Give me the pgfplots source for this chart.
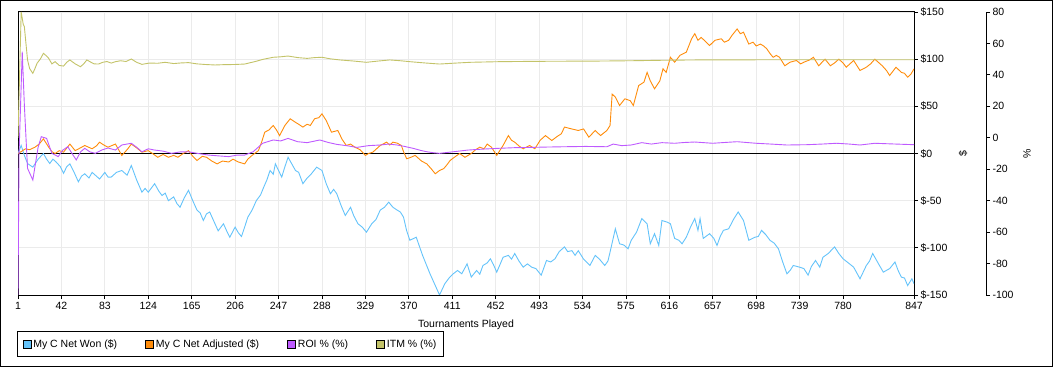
\documentclass[border=0pt]{standalone}
\usepackage{pgfplots}
\pgfplotsset{compat=1.18}
\usepackage{fontspec}
\setmainfont{Liberation Sans}
\definecolor{cwon}{RGB}{100,195,250}
\definecolor{cadj}{RGB}{255,140,10}
\definecolor{croi}{RGB}{190,90,255}
\definecolor{citm}{RGB}{195,195,105}
\definecolor{gridc}{RGB}{235,235,235}
\newcommand{\f}{\fontsize{10.5bp}{12bp}\selectfont}
\pgfplotsset{
  common/.style={
    scale only axis, width=896bp, height=283bp,
    at={(18bp,72bp)}, anchor=south west,
    xmin=1, xmax=847,
  },
  legend image code/.code={\draw[#1,draw=black,line width=0.8bp,fill] (0bp,-4bp) rectangle (8bp,4bp);},
}
\begin{document}
\begin{tikzpicture}
\useasboundingbox (0,0) rectangle (1053bp,367bp);
\draw[line width=1bp] (0.5bp,0.5bp) rectangle (1052.5bp,366.5bp);
% main $ axis
\begin{axis}[common,
  ymin=-150, ymax=150,
  axis line style={line width=1bp},
  tick style={black, line width=0.8bp},
  major tick length=4bp, tick align=outside,
  xtick={1,42,83,124,165,206,247,288,329,370,411,452,493,534,575,616,657,698,739,780,847},
  xticklabels={1,42,83,124,165,206,247,288,329,370,411,452,493,534,575,616,657,698,739,780,847},
  ytick={-150,-100,-50,0,50,100,150},
  yticklabels={\$-150,\$-100,\$-50,\$0,\$50,\$100,\$150},
  xtick pos=left, ytick pos=right, yticklabel pos=right,
  grid=major, major grid style={gridc, line width=0.8bp},
  tick label style={font=\f},
  yticklabel style={xshift=-1bp},
  xlabel={Tournaments Played},
  xlabel style={font=\f, at={(axis description cs:0.5,0)}, anchor=center, yshift=-30bp},
  ylabel={\$},
  every axis y label/.style={font=\f, at={(axis description cs:1,0.5)}, anchor=center, xshift=49bp, rotate=90},
  legend columns=4,
  legend style={font=\f, at={(axis description cs:0,0)}, anchor=north west, xshift=-1bp, yshift=-36bp,
    draw=black, line width=1bp, inner xsep=5bp, inner ysep=6bp, cells={anchor=west},
    /tikz/every even column/.append style={column sep=26bp}},
]
\addplot[black, line width=1bp, forget plot] coordinates {(1,0) (847,0)};
\addplot[cwon, line width=0.9bp] coordinates {
(1,0)(4,8.5)(7,-2)(10,-10.6)(15,-14.5)(20,-6)(25,0)(28,-6)(31,-10.6)(34,-6)(37,-9)(41,-14)(44,-21)(47,-14)(50,-11)(54,-20)(58,-30)(61,-24)(64,-21.5)(68,-26)(71,-20)(75,-24)(78,-27)(83,-20)(86,-25)(89,-25)(94,-20)(99,-18)(104,-23)(108,-12.7)(113,-28)(118,-41)(121,-37)(124,-41)(130,-32)(134,-40)(137,-44.5)(140,-42)(143,-50)(148,-46)(151,-53)(154,-57)(158,-47)(162,-39)(166,-50)(170,-60)(173,-63)(176,-71)(179,-64)(182,-62)(186,-72)(190,-82)(195,-74.5)(198,-82)(201,-88.7)(206,-78)(209,-84)(212,-88)(215,-78)(218,-67.5)(222,-60)(226,-50)(230,-44)(233,-35.7)(236,-28)(239,-18)(242,-22)(244,-11)(247,-18)(250,-25)(253,-14)(256,-4)(260,-12)(263,-18)(266,-20)(270,-32)(274,-26)(278,-21.5)(283,-14.5)(288,-18)(292,-32)(296,-42.7)(299,-38)(302,-42.7)(306,-55)(310,-65.7)(315,-57)(318,-66)(322,-74.5)(326,-78)(330,-83.4)(335,-74.5)(339,-70)(343,-60)(347,-57)(351,-51.6)(355,-57)(359,-60)(362,-62)(365,-67.5)(368,-82)(371,-92)(377,-88.7)(383,-108)(390,-127.5)(395,-140)(399,-150)(404,-138)(408,-132)(412,-127.5)(416,-124)(420,-127.5)(425,-117)(429,-131)(434,-124)(437,-128)(440,-118.7)(444,-116)(447,-111.6)(450,-118)(453,-125.8)(456,-118)(459,-110)(464,-108)(467,-112)(470,-106)(474,-114)(478,-120.5)(482,-117)(486,-120.5)(490,-122)(495,-129)(500,-113.4)(504,-115)(508,-111.6)(512,-104)(517,-99)(520,-104)(524,-103)(527,-108)(530,-103)(535,-112)(541,-118.7)(546,-108)(550,-112)(555,-118.7)(558,-114)(560,-104.6)(565,-79.8)(569,-95.7)(573,-97)(577,-101)(580,-92)(585,-83.4)(590,-69)(595,-74.5)(598,-95.7)(602,-85)(606,-97.5)(609,-71)(614,-72.8)(617,-74.5)(621,-90)(625,-92)(628,-95.7)(632,-88.7)(636,-78)(640,-69)(643,-81.5)(645,-69)(648,-90)(654,-85)(658,-90)(661,-97.5)(664,-88)(667,-81.5)(672,-79.8)(677,-69)(681,-62)(686,-71)(691,-92)(697,-88.7)(700,-88)(703,-81.5)(707,-86)(711,-92)(715,-95)(719,-101)(723,-115)(727,-127.5)(730,-124)(733,-118.7)(739,-120.5)(743,-122)(747,-129)(750,-120)(754,-113.4)(758,-120.5)(761,-110)(766,-106)(772,-99)(776,-106)(780,-111.6)(785,-116)(790,-120.5)(796,-132.8)(802,-118.7)(805,-114)(808,-106)(813,-116)(818,-125.8)(824,-122)(829,-115)(832,-124)(835,-131)(838,-132)(841,-140)(845,-132.8)(847,-138)
};
\addlegendentry{My C Net Won (\$)}
\addplot[cadj, line width=0.9bp] coordinates {
(1,0)(4,2)(8,5)(12,4)(17,6.7)(21,10)(25,15.5)(30,6.7)(33,2)(36,0)(40,3)(44,1.4)(50,10)(55,3)(60,6)(64,8.5)(71,5)(75,8)(78,12)(82,9)(86,6.7)(93,10)(96,4)(99,-2)(104,4)(108,10)(113,6)(118,1.4)(124,3)(128,0)(133,-4)(138,-1)(143,-4)(148,-2)(152,-4)(157,0)(162,3)(166,-3)(170,-7.4)(175,-3)(179,-4)(184,-8)(189,-11)(194,-8)(200,-9)(204,-6)(209,-9)(215,-11)(218,-6)(222,-2)(228,3)(231,12)(234,22.6)(238,25)(242,29.7)(245,25)(248,19)(253,29.7)(258,36.8)(263,33)(266,31)(270,28)(274,31)(277,29.7)(281,36.8)(285,38)(288,42)(292,35)(297,22.6)(303,24.4)(307,15)(311,8.5)(315,10)(319,6.7)(324,4)(329,-2)(332,0)(336,1.4)(343,8.5)(349,12)(352,9)(355,12)(359,11)(363,8.5)(365,2)(368,-5.6)(372,-4)(376,-2)(382,-8)(387,-11)(391,-16)(395,-21.5)(399,-18)(403,-16)(406,-12)(409,-7.4)(413,-4)(418,0)(423,-4)(429,0)(433,4)(437,6.7)(441,5)(444,10)(448,6.7)(453,-2)(459,8.5)(464,19)(467,14)(470,12)(474,8)(478,5)(484,8.5)(489,5)(494,14)(499,19)(505,13.8)(510,18)(514,20.9)(517,28)(524,26)(530,24.4)(535,26)(540,17.3)(546,24.4)(551,19)(557,24.4)(560,29.7)(562,63)(565,59.7)(569,50.9)(574,58)(579,56)(582,50.9)(587,72)(592,75.6)(595,86)(598,77)(602,68.6)(607,77)(610,89.8)(613,86)(617,102)(621,96.8)(626,104)(632,107.4)(637,121.6)(640,127)(643,120)(646,123)(649,120)(654,114.5)(659,120)(665,121.6)(668,118)(672,120)(675,125)(680,132)(683,127)(686,128.6)(691,116)(695,118)(698,114)(702,116)(705,114)(708,111)(711,106)(714,102)(717,104)(720,102)(725,93)(730,96.8)(736,98.6)(740,95)(743,96.8)(748,99)(752,102)(757,93)(763,100)(768,93)(772,96)(776,100)(780,96)(783,91.5)(790,98.6)(796,88)(802,91.5)(806,95)(810,100)(817,93)(821,88)(824,82.7)(830,91.5)(835,86)(838,85)(841,80.9)(844,84)(847,89.8)
};
\addlegendentry{My C Net Adjusted (\$)}
\addlegendimage{croi}
\addlegendentry{ROI \% (\%)}
\addlegendimage{citm}
\addlegendentry{ITM \% (\%)}
\end{axis}
% % series on main area
\begin{axis}[common, ymin=-100, ymax=80, hide axis]
\addplot[croi, line width=0.9bp] coordinates {
(1,-100)(2,-10)(5,54.8)(7,20.8)(10,-19.4)(15,-26.9)(17,-18.4)(20,-6)(23,0.7)(28,-0.4)(33,-9.9)(39,-12)(43,-8)(48,-5.7)(52,-10)(56,-14.1)(60,-9)(64,-6.7)(69,-9)(74,-9.9)(80,-7.8)(86,-6.5)(93,-7.8)(99,-4.6)(108,-3.5)(113,-6)(118,-8.9)(124,-7)(130,-7.8)(138,-8.5)(146,-9.9)(154,-9)(162,-8.9)(171,-10)(181,-11)(190,-11.5)(200,-12)(208,-11)(215,-11)(223,-8.9)(232,-3.5)(242,-1.4)(249,-2)(256,-0.4)(265,-2.5)(274,-3.1)(286,-1.4)(294,-3)(302,-4.2)(311,-5)(321,-6.1)(332,-5)(343,-4.6)(351,-4)(359,-4.6)(366,-5.5)(374,-6.7)(381,-8)(387,-8.9)(393,-9.5)(399,-9.9)(412,-8.9)(426,-7.8)(440,-7.2)(455,-6.7)(470,-6.3)(486,-6.1)(500,-5.9)(517,-5.7)(537,-5.5)(557,-5.7)(563,-4)(571,-5)(580,-4.6)(590,-3.1)(599,-4)(609,-3.1)(621,-3.5)(630,-3)(640,-2.7)(657,-3.5)(668,-3)(680,-2.5)(698,-3.5)(712,-4)(727,-4.6)(746,-4.4)(760,-4)(774,-3.5)(786,-4)(796,-4.6)(810,-3.5)(830,-4)(847,-4.4)
};
\addplot[citm, line width=0.9bp] coordinates {
(1,0)(4,80)(6,72)(7,70.7)(10,49.5)(12,44)(15,41)(17,44)(19,47.4)(22,50)(25,53.7)(28,52)(30,50.5)(33,47)(36,48.4)(40,46)(44,45.6)(47,48)(50,49.5)(55,47)(60,45.2)(63,47)(66,49.5)(70,48)(73,47)(77,46.9)(81,48)(85,48.5)(89,47.5)(93,48.4)(98,49)(103,48.5)(108,50.1)(113,48)(118,46.7)(125,47.5)(133,47.4)(140,48)(148,47.2)(155,47.6)(162,47.8)(170,47)(178,46.6)(187,46.3)(195,46.5)(205,46.6)(215,46.9)(225,48.5)(233,50)(242,51.2)(249,51.5)(256,52)(265,51)(274,50.5)(281,51)(288,51.2)(296,50.2)(305,49.5)(318,48.8)(330,48)(341,48.8)(352,49.5)(362,49)(371,48.4)(385,47.6)(399,46.9)(414,47.5)(428,48)(441,48.2)(455,48.4)(486,48.6)(517,48.7)(550,48.8)(580,49)(610,49.3)(640,49.5)(700,49.6)(847,49.6)
};
\end{axis}
% % axis line
\begin{axis}[scale only axis, width=10bp, height=283bp, at={(976bp,72bp)}, anchor=south west,
  xmin=0, xmax=1, ymin=-100, ymax=80,
  axis x line=none, axis y line*=right,
  axis line style={line width=1bp, -},
  tick style={black, line width=0.8bp}, major tick length=4bp, tick align=outside,
  xtick=\empty,
  ytick={-100,-80,...,80},
  yticklabels={-100,-80,-60,-40,-20,0,20,40,60,80},
  tick label style={font=\f},
  yticklabel style={xshift=-1bp},
  ylabel={\%},
  every axis y label/.style={font=\f, at={(axis description cs:1,0.5)}, anchor=center, xshift=41bp, rotate=90},
]
\end{axis}
\end{tikzpicture}
\end{document}
